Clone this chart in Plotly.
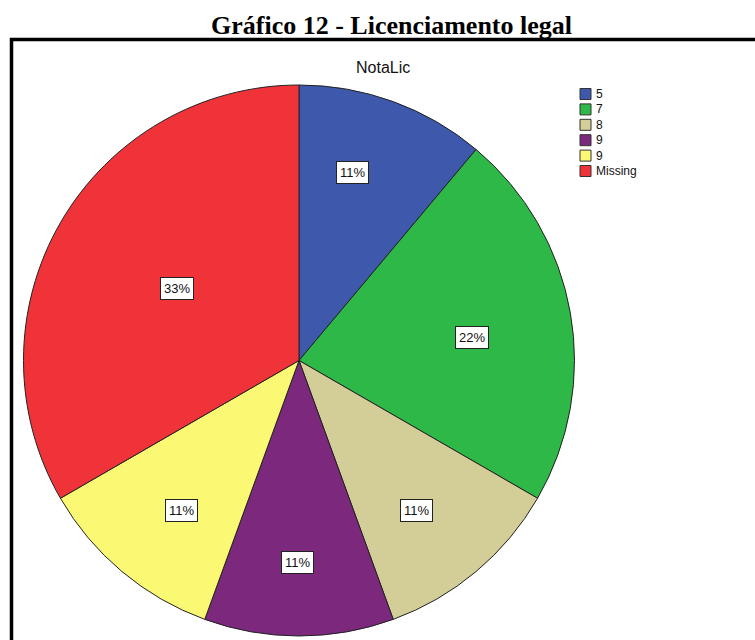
import math
import plotly.graph_objects as go

# Data
categories = ["5", "7", "8", "9", "9 ", "Missing"]
counts = [1, 2, 1, 1, 1, 3]
colors = ["#3E58AC", "#2EB848", "#D3CE97", "#7B287D", "#FBF873", "#EF3338"]

# Label placement style (fraction of radius, angle tweak in degrees)
label_r = [0.708, 0.634, 0.693, 0.735, 0.692, 0.515]
label_dang = [-4.2, 2.3, 1.9, 0.5, -2.1, 0.7]

W, H = 755, 640
cx, cy, R = 299, 360.5, 275.5
SANS = "Liberation Sans, Arial"

fig = go.Figure(go.Pie(
    labels=categories,
    values=counts,
    sort=False,
    direction="clockwise",
    rotation=0,
    marker=dict(colors=colors, line=dict(color="#222222", width=1)),
    textinfo="none",
    hoverinfo="label+percent",
    showlegend=False,
    domain=dict(x=[(cx - R) / W, (cx + R) / W], y=[(H - cy - R) / H, (H - cy + R) / H]),
))

total = sum(counts)
cum = 0
annotations = []
shapes = []
for c, v, rf, da in zip(categories, counts, label_r, label_dang):
    mid = (cum + v / 2) / total * 2 * math.pi + math.radians(da)
    cum += v
    px = cx + rf * R * math.sin(mid)
    py = cy - rf * R * math.cos(mid)
    annotations.append(dict(
        x=px / W, y=1 - py / H, xref="paper", yref="paper",
        xanchor="center", yanchor="middle",
        text=f"{round(v / total * 100)}%", showarrow=False,
        font=dict(family=SANS, size=13, color="#111111"),
        bgcolor="white", bordercolor="#222222", borderwidth=1, borderpad=3,
    ))

# custom legend
lx, ly0, dy, sq = 580, 94, 15.4, 11
for i, (c, col) in enumerate(zip(categories, colors)):
    yc = ly0 + i * dy
    shapes.append(dict(
        type="rect", xref="paper", yref="paper",
        x0=lx / W, x1=(lx + sq) / W, y0=1 - (yc - sq / 2) / H, y1=1 - (yc + sq / 2) / H,
        fillcolor=col, line=dict(color="#333333", width=1),
    ))
    annotations.append(dict(
        x=(lx + sq + 3) / W, y=1 - yc / H, xref="paper", yref="paper",
        xanchor="left", yanchor="middle", text=c.strip(), showarrow=False,
        font=dict(family=SANS, size=12, color="#111111"),
    ))

annotations.append(dict(
    x=391 / W, y=1 - 25 / H, xref="paper", yref="paper",
    xanchor="center", yanchor="middle",
    text="<b>Gráfico 12 - Licenciamento legal</b>", showarrow=False,
    font=dict(family="Liberation Serif, Times New Roman", size=26, color="black"),
))
annotations.append(dict(
    x=383 / W, y=1 - 68 / H, xref="paper", yref="paper",
    xanchor="center", yanchor="middle",
    text="NotaLic", showarrow=False,
    font=dict(family=SANS, size=16, color="#111111"),
))

shapes.append(dict(
    type="path", xref="paper", yref="paper",
    path=f"M {11.5 / W},0 L {11.5 / W},{1 - 39.5 / H} L 1,{1 - 39.5 / H}",
    line=dict(color="black", width=3.5),
))

fig.update_layout(
    width=W, height=H,
    margin=dict(l=0, r=0, t=0, b=0),
    paper_bgcolor="white",
    showlegend=False,
    annotations=annotations,
    shapes=shapes,
)

fig.write_html("out.html", config={"displayModeBar": False},
               post_script="document.body.style.margin='0px';")
